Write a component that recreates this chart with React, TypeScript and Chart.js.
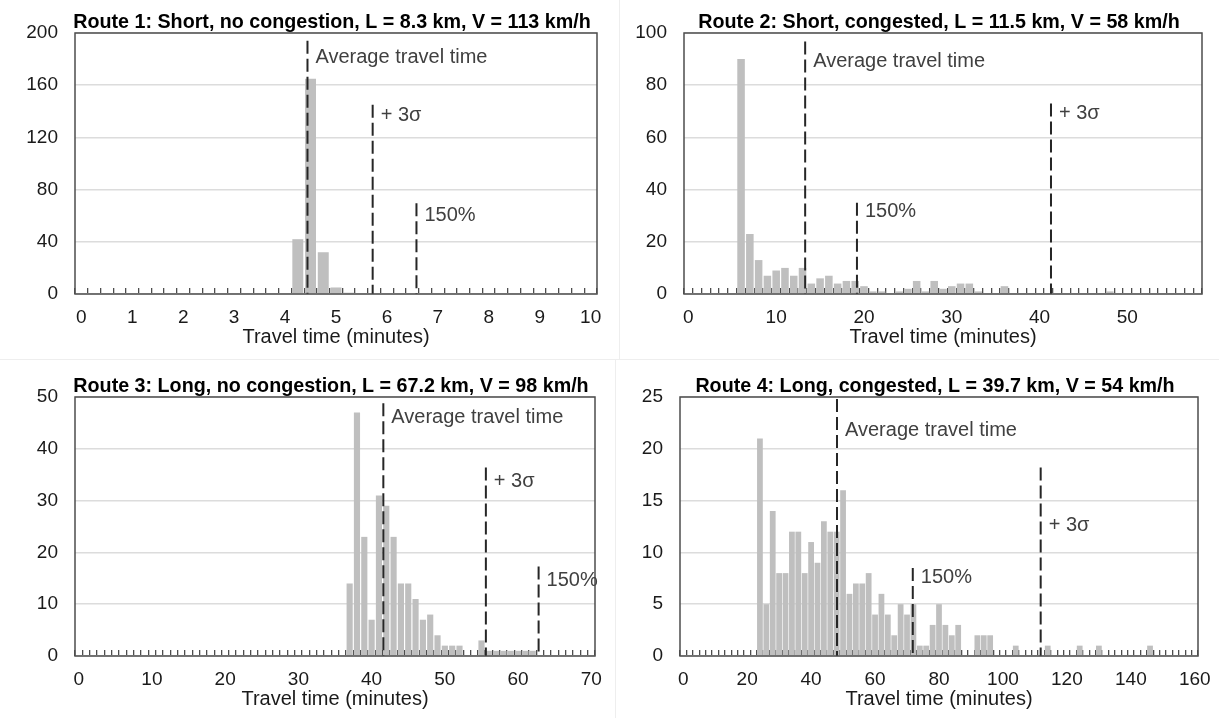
import React, { useEffect, useRef } from 'react';
import { Chart, registerables } from 'chart.js';

Chart.register(...registerables);

const FONT = "'Liberation Sans', Arial, Helvetica, sans-serif";

// ---------- Route 1 ----------
const R1_TITLE = 'Route 1: Short, no congestion, L = 8.3 km, V = 113 km/h';
const R1_BIN = 0.25;
const R1_COUNTS = [
  0, 0, 0, 0, 0, 0, 0, 0, 0, 0, 0, 0, 0, 0, 0, 0, 0, 42, 165, 32, 5, 1,
  0, 0, 0, 0, 0, 0, 0, 0, 0, 0, 0, 0, 0, 0, 0, 0, 0, 0, 0,
];
const R1_XLABELS = [0, 1, 2, 3, 4, 5, 6, 7, 8, 9, 10];
const R1_YTICKS = [0, 40, 80, 120, 160, 200];
const R1_MARK_TEXT = ['Average travel time', '+ 3σ', '150%'];
const R1_MARK_X = [4.44, 5.72, 6.58];
const R1_MARK_TOP = [194, 145, 69.5];
const R1_MARK_LABEL_Y = [181, 137, 60.5];

// ---------- Route 2 ----------
const R2_TITLE = 'Route 2: Short, congested, L = 11.5 km, V = 58 km/h';
const R2_BIN = 1;
const R2_COUNTS = [
  0, 0, 0, 0, 0, 0, 90, 23, 13, 7, 9, 10, 7, 10, 4, 6, 7, 4, 5, 5, 3, 1, 1,
  0, 1, 2, 5, 1, 5, 2, 3, 4, 4, 1, 0, 0, 3, 0, 0, 0, 0, 0, 0, 0, 0, 0, 0, 0,
  1, 0, 0, 0, 0, 0, 0, 0, 0, 0, 0,
];
const R2_XLABELS = [0, 10, 20, 30, 40, 50];
const R2_YTICKS = [0, 20, 40, 60, 80, 100];
const R2_MARK_TEXT = ['Average travel time', '150%', '+ 3σ'];
const R2_MARK_X = [13.3, 19.2, 41.3];
const R2_MARK_TOP = [96.7, 35, 73];
const R2_MARK_LABEL_Y = [89, 31.5, 69];

// ---------- Route 3 ----------
const R3_TITLE = 'Route 3: Long, no congestion, L = 67.2 km, V = 98 km/h';
const R3_BIN = 1;
const R3_COUNTS = [
  0, 0, 0, 0, 0, 0, 0, 0, 0, 0, 0, 0, 0, 0, 0, 0, 0, 0, 0, 0, 0, 0, 0, 0, 0,
  0, 0, 0, 0, 0, 0, 0, 0, 0, 0, 0, 0, 14, 47, 23, 7, 31, 29, 23, 14, 14, 11,
  7, 8, 4, 2, 2, 2, 0, 0, 3, 1, 1, 1, 1, 1, 1, 1, 0, 0, 0, 0, 0, 0, 0, 0,
];
const R3_XLABELS = [0, 10, 20, 30, 40, 50, 60, 70];
const R3_YTICKS = [0, 10, 20, 30, 40, 50];
const R3_MARK_TEXT = ['Average travel time', '+ 3σ', '150%'];
const R3_MARK_X = [41.6, 55.6, 62.8];
const R3_MARK_TOP = [48.8, 36.4, 17.3];
const R3_MARK_LABEL_Y = [46.1, 33.7, 14.6];

// ---------- Route 4 ----------
const R4_TITLE = 'Route 4: Long, congested, L = 39.7 km, V = 54 km/h';
const R4_BIN = 2;
const R4_COUNTS = [
  0, 0, 0, 0, 0, 0, 0, 0, 0, 0, 0, 0, 21, 5, 14, 8, 8, 12, 12, 8, 11, 9, 13,
  12, 12, 16, 6, 7, 7, 8, 4, 6, 4, 2, 5, 4, 5, 1, 1, 3, 5, 3, 2, 3, 0, 0, 2,
  2, 2, 0, 0, 0, 1, 0, 0, 0, 0, 1, 0, 0, 0, 0, 1, 0, 0, 1, 0, 0, 0, 0, 0, 0,
  0, 1, 0, 0, 0, 0, 0, 0, 0,
];
const R4_XLABELS = [0, 20, 40, 60, 80, 100, 120, 140, 160];
const R4_YTICKS = [0, 5, 10, 15, 20, 25];
const R4_MARK_TEXT = ['Average travel time', '150%', '+ 3σ'];
const R4_MARK_X = [48.1, 71.8, 111.8];
const R4_MARK_TOP = [24.8, 8.5, 18.2];
const R4_MARK_LABEL_Y = [21.8, 7.6, 12.6];

type PanelCfg = {
  title: string;
  bin: number;
  counts: number[];
  xLabels: number[];
  yTicks: number[];
  markText: string[];
  markX: number[];
  markTop: number[];
  markLabelY: number[];
  box: { left: number; top: number; width: number; height: number };
  pad: { left: number; top: number; right: number; bottom: number };
  yw: number;
  barPct: number;
};

const PANELS: PanelCfg[] = [
  {
    title: R1_TITLE, bin: R1_BIN, counts: R1_COUNTS, xLabels: R1_XLABELS, yTicks: R1_YTICKS,
    markText: R1_MARK_TEXT, markX: R1_MARK_X, markTop: R1_MARK_TOP, markLabelY: R1_MARK_LABEL_Y,
    box: { left: 0, top: 0, width: 605, height: 355 },
    pad: { left: 0, top: 33, right: 8, bottom: 6 }, yw: 75, barPct: 0.86,
  },
  {
    title: R2_TITLE, bin: R2_BIN, counts: R2_COUNTS, xLabels: R2_XLABELS, yTicks: R2_YTICKS,
    markText: R2_MARK_TEXT, markX: R2_MARK_X, markTop: R2_MARK_TOP, markLabelY: R2_MARK_LABEL_Y,
    box: { left: 610, top: 0, width: 609, height: 355 },
    pad: { left: 0, top: 33, right: 17, bottom: 6 }, yw: 74, barPct: 0.86,
  },
  {
    title: R3_TITLE, bin: R3_BIN, counts: R3_COUNTS, xLabels: R3_XLABELS, yTicks: R3_YTICKS,
    markText: R3_MARK_TEXT, markX: R3_MARK_X, markTop: R3_MARK_TOP, markLabelY: R3_MARK_LABEL_Y,
    box: { left: 0, top: 360, width: 605, height: 358 },
    pad: { left: 0, top: 37, right: 10, bottom: 7 }, yw: 75, barPct: 0.84,
  },
  {
    title: R4_TITLE, bin: R4_BIN, counts: R4_COUNTS, xLabels: R4_XLABELS, yTicks: R4_YTICKS,
    markText: R4_MARK_TEXT, markX: R4_MARK_X, markTop: R4_MARK_TOP, markLabelY: R4_MARK_LABEL_Y,
    box: { left: 610, top: 360, width: 609, height: 358 },
    pad: { left: 0, top: 37, right: 21, bottom: 7 }, yw: 70, barPct: 0.9,
  },
];

function Panel({ cfg }: { cfg: PanelCfg }) {
  const ref = useRef<HTMLCanvasElement>(null);

  useEffect(() => {
    if (!ref.current) return;
    const cats = cfg.counts.map((_, i) => Number((i * cfg.bin).toFixed(4)));
    const yMax = cfg.yTicks[cfg.yTicks.length - 1];
    const yStep = cfg.yTicks[1] - cfg.yTicks[0];
    const xvMin = -cfg.bin / 2;
    const xvMax = cats[cats.length - 1] + cfg.bin / 2;

    const lineSets: any[] = cfg.markX.map((x, k) => ({
      type: 'line',
      label: cfg.markText[k],
      data: [
        { x, y: cfg.markTop[k] },
        { x, y: 0 },
      ],
      xAxisID: 'xv',
      yAxisID: 'y',
      borderColor: '#262626',
      borderWidth: 2,
      borderDash: [13, 5],
      pointRadius: 0,
      fill: false,
      tension: 0,
      order: 0,
    }));

    const titlePlugin = {
      id: 'panelTitle',
      afterDraw(chart: any) {
        const { ctx, chartArea } = chart;
        ctx.save();
        ctx.font = `bold 19.7px ${FONT}`;
        ctx.fillStyle = '#000000';
        ctx.textAlign = 'center';
        ctx.textBaseline = 'alphabetic';
        ctx.fillText(cfg.title, (chartArea.left + chartArea.right) / 2 - 4, chartArea.top - 5);
        ctx.restore();
      },
    };

    const framePlugin = {
      id: 'plotFrame',
      afterDatasetsDraw(chart: any) {
        const { ctx, chartArea } = chart;
        ctx.save();
        ctx.strokeStyle = '#4d4d4d';
        ctx.lineWidth = 1.5;
        ctx.strokeRect(chartArea.left, chartArea.top, chartArea.right - chartArea.left, chartArea.bottom - chartArea.top);
        ctx.restore();
      },
    };

    const markLabelPlugin = {
      id: 'markLabels',
      afterDatasetsDraw(chart: any) {
        const { ctx } = chart;
        const xs = chart.scales.xv;
        const ys = chart.scales.y;
        ctx.save();
        ctx.font = `20px ${FONT}`;
        ctx.fillStyle = '#404040';
        ctx.textAlign = 'left';
        ctx.textBaseline = 'middle';
        cfg.markText.forEach((t, k) => {
          ctx.fillText(t, xs.getPixelForValue(cfg.markX[k]) + 8, ys.getPixelForValue(cfg.markLabelY[k]));
        });
        ctx.restore();
      },
    };

    const chart = new Chart(ref.current, {
      type: 'bar',
      data: {
        labels: cats as any,
        datasets: [
          {
            type: 'bar',
            label: 'count',
            data: cfg.counts,
            backgroundColor: '#bfbfbf',
            borderWidth: 0,
            grouped: false,
            categoryPercentage: cfg.barPct,
            barPercentage: 1,
            xAxisID: 'x',
            yAxisID: 'y',
            order: 1,
          } as any,
          ...lineSets,
        ],
      },
      options: {
        responsive: false,
        animation: false,
        devicePixelRatio: 1,
        layout: { padding: cfg.pad },
        plugins: {
          legend: { display: false },
          tooltip: { enabled: false },
          title: { display: false },
        },
        scales: {
          x: {
            type: 'category',
            position: 'bottom',
            offset: true,
            z: 1,
            grid: {
              offset: true,
              display: true,
              drawOnChartArea: false,
              drawTicks: true,
              tickLength: -6,
              color: '#4d4d4d',
              lineWidth: 1.3,
            },
            border: { display: false },
            ticks: {
              autoSkip: false,
              maxRotation: 0,
              minRotation: 0,
              padding: 18,
              color: '#1a1a1a',
              font: { family: FONT, size: 19 },
              callback: function (_v: any, idx: number) {
                const v = cats[idx];
                return cfg.xLabels.some((l) => Math.abs(l - v) < 1e-6) ? String(v) : '';
              },
            },
            title: {
              display: true,
              text: 'Travel time (minutes)',
              color: '#1a1a1a',
              font: { family: FONT, size: 20 },
              padding: { top: 0, bottom: 0 },
            },
            afterFit: (s: any) => {
              s.height = 55;
              s.paddingLeft = 0;
              s.paddingRight = 0;
            },
          } as any,
          xv: {
            type: 'linear',
            display: false,
            position: 'bottom',
            offset: false,
            grid: { offset: false },
            min: xvMin,
            max: xvMax,
          },
          y: {
            type: 'linear',
            min: 0,
            max: yMax,
            ticks: {
              stepSize: yStep,
              padding: 17,
              color: '#1a1a1a',
              font: { family: FONT, size: 19 },
            },
            grid: { color: '#dcdcdc', lineWidth: 1.5, drawTicks: false },
            border: { display: false },
            afterFit: (s: any) => {
              s.width = cfg.yw;
              s.paddingTop = 0;
              s.paddingBottom = 0;
            },
          } as any,
        },
      } as any,
      plugins: [titlePlugin, framePlugin, markLabelPlugin],
    });

    return () => chart.destroy();
  }, [cfg]);

  return (
    <canvas
      ref={ref}
      width={cfg.box.width}
      height={cfg.box.height}
      style={{
        position: 'absolute',
        left: cfg.box.left,
        top: cfg.box.top,
        width: cfg.box.width,
        height: cfg.box.height,
      }}
    />
  );
}

export default function App() {
  useEffect(() => {
    document.body.style.margin = '0';
    document.body.style.overflow = 'hidden';
    document.body.style.background = '#ffffff';
  }, []);

  return (
    <div
      style={{
        position: 'absolute',
        left: 0,
        top: 0,
        width: 1219,
        height: 718,
        background: '#ffffff',
        overflow: 'hidden',
      }}
    >
      {PANELS.map((p, i) => (
        <Panel key={i} cfg={p} />
      ))}
      <div style={{ position: 'absolute', left: 0, top: 359, width: 1219, height: 1, background: '#eeeeee' }} />
      <div style={{ position: 'absolute', left: 619, top: 0, width: 1, height: 359, background: '#eeeeee' }} />
      <div style={{ position: 'absolute', left: 615, top: 360, width: 1, height: 358, background: '#eeeeee' }} />
    </div>
  );
}
